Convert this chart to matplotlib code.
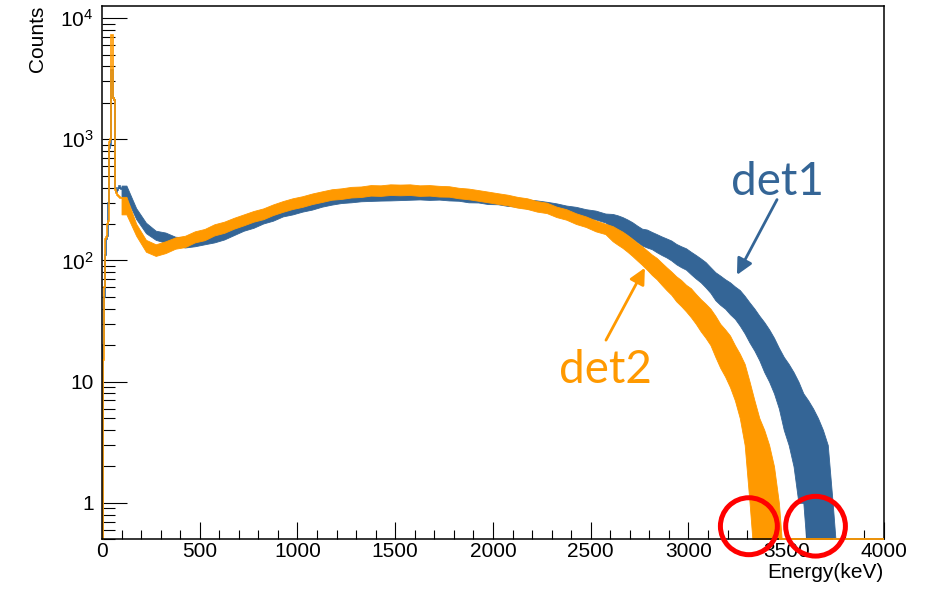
import numpy as np
import matplotlib
matplotlib.use('Agg')
import matplotlib.pyplot as plt
from matplotlib.ticker import MultipleLocator, LogLocator, NullFormatter

plt.rcParams['font.family'] = ['Liberation Sans', 'DejaVu Sans']
plt.rcParams['mathtext.fontset'] = 'custom'
plt.rcParams['mathtext.rm'] = 'Liberation Sans'

# low energy peak, 5 keV bins (0 - 100 keV)
peak_edges = np.arange(0, 101, 5)
det1_peak = [0, 20, 50, 110, 150, 160, 300, 850, 900, 3700,
             3700, 2200, 2100, 400, 370, 380, 400, 410, 400, 390]
det2_peak = [0, 15, 60, 150, 155, 200, 210, 950, 1000, 7300,
             7300, 2200, 2100, 380, 360, 350, 340, 335, 330, 330]

# continuum: 50 keV bins up to 2600 keV, 25 keV bins above
band_edges = np.concatenate([np.arange(100, 2600, 50), np.arange(2600, 3801, 25)])

# band envelopes (min / max count of the fine bins inside each bin)
det1_lo = [330, 220, 168, 148, 140, 133, 128, 131, 136, 141,
           149, 162, 176, 186, 202, 213, 231, 240, 253, 263,
           278, 289, 298, 302, 308, 310, 312, 313, 315, 317,
           319, 316, 318, 313, 311, 302, 301, 292, 291, 282,
           278, 269, 265, 257, 250, 240, 234, 223, 218, 206,
           185, 178, 172, 163, 152, 142, 133, 128, 124, 117,
           111, 106, 100, 93, 88, 84, 77, 71, 66, 60,
           54, 47, 43, 40, 36, 33, 29, 25, 21, 18,
           15, 12, 10, 8, 6, 4, 3, 2, 1, 1,
           0, 0, 0, 0, 0, 0, 0, 0]
det1_hi = [415, 270, 205, 176, 170, 157, 155, 157, 162, 168,
           177, 192, 208, 221, 239, 253, 273, 284, 299, 311,
           329, 342, 353, 358, 365, 367, 369, 371, 373, 376,
           378, 376, 378, 371, 369, 358, 356, 346, 344, 334,
           329, 319, 313, 305, 296, 284, 277, 265, 258, 244,
           242, 236, 228, 218, 207, 194, 183, 180, 172, 165,
           158, 152, 146, 137, 131, 126, 118, 111, 104, 97,
           88, 80, 75, 70, 66, 61, 57, 51, 45, 40,
           35, 31, 27, 23, 19, 16, 14, 12, 10, 8,
           7, 6, 5, 4, 3, 1, 0, 0]
det2_lo = [240, 160, 118, 109, 115, 125, 129, 141, 147, 161,
           169, 183, 195, 209, 219, 237, 252, 266, 277, 292,
           304, 317, 322, 331, 334, 343, 341, 347, 345, 347,
           341, 343, 337, 336, 326, 320, 311, 302, 293, 285,
           273, 266, 253, 246, 228, 217, 200, 189, 174, 165,
           144, 135, 127, 118, 109, 100, 92, 84, 76, 70,
           63, 57, 52, 46, 42, 38, 34, 30, 26, 23,
           20, 16, 13, 11, 9, 7, 5, 3, 1, 0,
           0, 0, 0, 0, 0, 0, 0, 0, 0, 0,
           0, 0, 0, 0, 0, 0, 0, 0]
det2_hi = [335, 201, 148, 136, 144, 155, 160, 174, 182, 199,
           209, 225, 240, 256, 269, 290, 309, 326, 339, 357,
           372, 387, 394, 405, 408, 419, 417, 425, 423, 425,
           417, 419, 413, 410, 398, 392, 381, 370, 359, 349,
           335, 326, 309, 300, 278, 265, 245, 231, 214, 201,
           192, 182, 173, 162, 151, 140, 131, 121, 112, 105,
           96, 88, 81, 74, 69, 63, 59, 53, 48, 44,
           40, 35, 30, 27, 24, 20, 17, 14, 10, 7,
           5, 4, 3, 2, 1, 0, 0, 0, 0, 0,
           0, 0, 0, 0, 0, 0, 0, 0]

xticks = [0, 500, 1000, 1500, 2000, 2500, 3000, 3500, 4000]
yticks = [1, 10, 100, 1000, 10000]
ytick_labels = ['1', '10', r'$\mathregular{10^{2}}$', r'$\mathregular{10^{3}}$', r'$\mathregular{10^{4}}$']

labels = ['det1', 'det2']
label_pos = [(3455, 349), (2573, 9.75)]
arrow_tail = [(3453, 318), (2578, 22)]
arrow_head = [(3248, 76), (2777, 87)]
circle_energy = [3309, 3650]
circle_counts = [0.641, 0.641]
circle_size = [41, 43]

c_det1 = '#346596'
c_det2 = '#ff9900'
ymin, ymax = 0.5, 1.26e4

fig = plt.figure(figsize=(9.38, 5.91), dpi=100)
ax = fig.add_axes([0.1087, 0.0875, 0.8337, 0.9024])
ax.set_yscale('log')


def draw_spectrum(ax, peak, lo, hi, color, z):
    lo = np.maximum(np.asarray(lo, float), 0.3)  # empty bins fall out of the frame
    hi = np.maximum(np.asarray(hi, float), 0.3)
    centers = 0.5 * (band_edges[:-1] + band_edges[1:])
    x = np.concatenate([[band_edges[0]], centers])
    ax.fill_between(x, np.concatenate([[lo[0]], lo]), np.concatenate([[hi[0]], hi]),
                    color=color, lw=0.6, zorder=z)
    ax.stairs(np.maximum(peak, ymin), peak_edges, baseline=None, color=color, lw=1.2,
              zorder=z + 0.1, clip_on=False)
    # empty bins past the end of the spectrum are drawn on the bottom of the frame
    last = np.nonzero(np.asarray(hi) > 0.3)[0][-1]
    ax.plot([centers[last], 4000], [ymin, ymin], color=color, lw=1.3, zorder=z + 1,
            clip_on=False, solid_capstyle='butt')


draw_spectrum(ax, det1_peak, det1_lo, det1_hi, c_det1, 2)
draw_spectrum(ax, det2_peak, det2_lo, det2_hi, c_det2, 2.2)

ax.set_xlim(0, 4000)
ax.set_ylim(ymin, ymax)

ax.set_xticks(xticks)
ax.xaxis.set_minor_locator(MultipleLocator(100))
ax.set_yticks(yticks, ytick_labels)
ax.yaxis.set_minor_locator(LogLocator(base=10, subs=np.arange(2, 10)))
ax.yaxis.set_minor_formatter(NullFormatter())

ax.tick_params(which='both', direction='in', top=False, right=False, width=0.8, color='black',
               labelsize=15)
ax.tick_params(axis='x', which='major', length=12.5, pad=2)
ax.tick_params(axis='x', which='minor', length=6.5)
ax.tick_params(axis='y', which='major', length=18, pad=6)
ax.tick_params(axis='y', which='minor', length=9.4)
for sp in ax.spines.values():
    sp.set_linewidth(1.1)

ax.set_xlabel('Energy(keV)', fontsize=15, ha='right')
ax.xaxis.set_label_coords(1.0, -0.044)
ax.set_ylabel('Counts', fontsize=15, ha='right')
ax.yaxis.set_label_coords(-0.07, 1.0)

for lab, pos, tail, head, c in zip(labels, label_pos, arrow_tail, arrow_head, [c_det1, c_det2]):
    ax.text(pos[0], pos[1], lab, color=c, fontsize=33, family='Lato', ha='center', va='baseline')
    ax.annotate('', xy=head, xytext=tail,
                arrowprops=dict(arrowstyle='-|>', color=c, lw=2, mutation_scale=24,
                                shrinkA=0, shrinkB=0))

ax.scatter(circle_energy, circle_counts, s=np.array(circle_size) ** 2, facecolors='none',
           edgecolors='red', linewidths=3.6, clip_on=False, zorder=6)

fig.savefig('out.png', dpi=100)
